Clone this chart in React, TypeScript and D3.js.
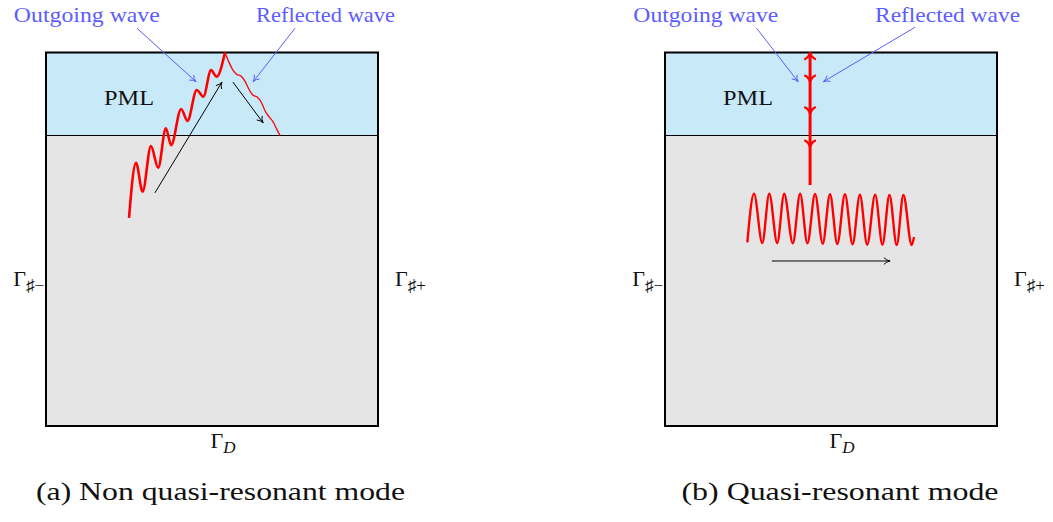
import React from "react";
import * as d3 from "d3";

// ---------- data (diagram units: box is 10 wide, 11.25 tall; PML 2.5 thick) ----------
const boxWidth = 10;
const boxHeight = 11.25;
const pmlThickness = 2.5;

const captions = ["(a) Non quasi-resonant mode", "(b) Quasi-resonant mode"];
const outgoingLabel = "Outgoing wave";
const reflectedLabel = "Reflected wave";
const pmlLabel = "PML";

// Panel (a): extrema of the outgoing (thick) wave
const outgoingWaveA: [number, number][] = [
  [2.5, 6.27], [2.71, 7.93], [2.91, 7.06], [3.16, 8.43], [3.38, 7.78], [3.61, 8.97],
  [3.77, 8.46], [4.07, 9.55], [4.26, 9.19], [4.54, 10.12], [4.74, 9.92], [4.97, 10.72],
  [5.14, 10.52], [5.39, 11.25],
];
// Panel (a): reflected (thin) wave
const reflectedWaveA: [number, number][] = [
  [5.39, 11.25], [5.51, 10.96], [5.63, 10.72], [5.75, 10.59], [5.87, 10.54], [5.99, 10.39],
  [6.11, 10.15], [6.23, 9.97], [6.36, 9.91], [6.48, 9.76], [6.6, 9.49], [6.72, 9.31],
  [6.84, 9.16], [6.96, 8.92], [7.05, 8.75],
];
// Panel (a): direction arrows [x1,y1,x2,y2]
const arrowsA: [number, number, number, number][] = [
  [3.28, 7.02, 5.3, 10.36],
  [5.63, 10.36, 6.54, 9.13],
];
// Panel (a): annotation pointers [x1,y1,x2,y2]
const pointersA: [number, number, number, number][] = [
  [2.74, 11.98, 4.52, 10.37],
  [7.5, 11.98, 6.24, 10.37],
];
const labelXA = [1.23, 8.42];

// Panel (b): standing wave extrema
const standingWaveB: [number, number][] = [
  [2.48, 5.53], [2.68, 7.0], [2.93, 5.51], [3.14, 7.0], [3.38, 5.51], [3.59, 7.0],
  [3.85, 5.5], [4.07, 7.0], [4.29, 5.5], [4.52, 6.99], [4.75, 5.49], [4.97, 6.98],
  [5.19, 5.48], [5.42, 6.98], [5.65, 5.47], [5.87, 6.97], [6.09, 5.46], [6.33, 6.97],
  [6.55, 5.46], [6.76, 6.96], [6.98, 5.45], [7.18, 6.96], [7.43, 5.45], [7.5, 5.69],
];
const verticalRayB = { x: 4.37, top: 11.25, bottom: 7.26 };
const chevronYB = [10.36, 9.4, 8.4];
const arrowB: [number, number, number, number] = [3.22, 4.97, 6.78, 4.97];
const pointersB: [number, number, number, number][] = [
  [2.76, 11.98, 4.01, 10.37],
  [7.53, 12.01, 4.77, 10.37],
];
const labelXB = [1.23, 8.51];

// ---------- layout ----------
const W = 1053;
const H = 522;
const panelLeft = [46, 665];
const unitPx = 33.2;
const boxBottom = 426;

const RED = "#ff0000";
const BLUE = "#5c5cff";
const PML_FILL = "#c8e9f8";
const DOMAIN_FILL = "#e5e5e5";
const FONT = "Liberation Serif";

function arrowHead(x1: number, y1: number, x2: number, y2: number, size = 7, spread = 0.5) {
  const a = Math.atan2(y2 - y1, x2 - x1);
  const pts = [-1, 1].map((s) => {
    const ang = a + Math.PI + s * spread;
    const bx = x2 + size * Math.cos(ang);
    const by = y2 + size * Math.sin(ang);
    const cang = a + Math.PI + s * spread * 0.35;
    const cx = x2 + size * 0.55 * Math.cos(cang);
    const cy = y2 + size * 0.55 * Math.sin(cang);
    return { bx, by, cx, cy };
  });
  return `M${pts[0].bx},${pts[0].by} Q${pts[0].cx},${pts[0].cy} ${x2},${y2} Q${pts[1].cx},${pts[1].cy} ${pts[1].bx},${pts[1].by}`;
}

function Panel({ index }: { index: number }) {
  const left = panelLeft[index];
  const x = d3.scaleLinear().domain([0, boxWidth]).range([left, left + boxWidth * unitPx]);
  const y = d3.scaleLinear().domain([0, boxHeight]).range([boxBottom, boxBottom - boxHeight * unitPx]);
  const line = d3
    .line<[number, number]>()
    .x((d) => x(d[0]))
    .y((d) => y(d[1]))
    .curve(d3.curveMonotoneX);

  const pointers = index === 0 ? pointersA : pointersB;
  const labelX = index === 0 ? labelXA : labelXB;
  const labelWidths = index === 0 ? [146, 139] : [145, 145];

  return (
    <g>
      {/* domain */}
      <rect x={x(0)} y={y(boxHeight)} width={x(boxWidth) - x(0)} height={y(0) - y(boxHeight)} fill={DOMAIN_FILL} />
      <rect
        x={x(0)}
        y={y(boxHeight)}
        width={x(boxWidth) - x(0)}
        height={y(boxHeight - pmlThickness) - y(boxHeight)}
        fill={PML_FILL}
      />
      <line x1={x(0)} x2={x(boxWidth)} y1={y(boxHeight - pmlThickness)} y2={y(boxHeight - pmlThickness)} stroke="#000" strokeWidth={1} />
      <rect
        x={x(0)}
        y={y(boxHeight)}
        width={x(boxWidth) - x(0)}
        height={y(0) - y(boxHeight)}
        fill="none"
        stroke="#000"
        strokeWidth={2}
      />
      <text x={x(2.5)} y={y(9.68)} fontFamily={FONT} fontSize={21} textAnchor="middle" textLength={50} lengthAdjust="spacingAndGlyphs" fill="#111">
        {pmlLabel}
      </text>

      {/* waves */}
      {index === 0 ? (
        <g>
          <path d={line(reflectedWaveA) || ""} fill="none" stroke={RED} strokeWidth={1.3} />
          <path d={line(outgoingWaveA) || ""} fill="none" stroke={RED} strokeWidth={2.6} strokeLinejoin="round" />
          {arrowsA.map((a, i) => (
            <g key={i}>
              <line x1={x(a[0])} y1={y(a[1])} x2={x(a[2])} y2={y(a[3])} stroke="#000" strokeWidth={1} />
              <path d={arrowHead(x(a[0]), y(a[1]), x(a[2]), y(a[3]))} fill="none" stroke="#000" strokeWidth={1} />
            </g>
          ))}
        </g>
      ) : (
        <g>
          <line
            x1={x(verticalRayB.x)}
            x2={x(verticalRayB.x)}
            y1={y(verticalRayB.top)}
            y2={y(verticalRayB.bottom)}
            stroke={RED}
            strokeWidth={3}
          />
          <path
            d={arrowHead(x(verticalRayB.x), y(verticalRayB.top) + 10, x(verticalRayB.x), y(verticalRayB.top), 9, 0.7)}
            fill="none"
            stroke={RED}
            strokeWidth={2.2}
          />
          {chevronYB.map((cy, i) => (
            <path
              key={i}
              d={arrowHead(x(verticalRayB.x), y(cy) - 10, x(verticalRayB.x), y(cy), 9, 0.7)}
              fill="none"
              stroke={RED}
              strokeWidth={2.2}
            />
          ))}
          <path d={line(standingWaveB) || ""} fill="none" stroke={RED} strokeWidth={2.4} strokeLinejoin="round" />
          <line x1={x(arrowB[0])} y1={y(arrowB[1])} x2={x(arrowB[2])} y2={y(arrowB[3])} stroke="#000" strokeWidth={1} />
          <path d={arrowHead(x(arrowB[0]), y(arrowB[1]), x(arrowB[2]), y(arrowB[3]))} fill="none" stroke="#000" strokeWidth={1} />
        </g>
      )}

      {/* annotations */}
      {pointers.map((p, i) => (
        <g key={i}>
          <line x1={x(p[0])} y1={y(p[1])} x2={x(p[2])} y2={y(p[3])} stroke={BLUE} strokeWidth={1} />
          <path d={arrowHead(x(p[0]), y(p[1]), x(p[2]), y(p[3]), 7)} fill="none" stroke={BLUE} strokeWidth={1} />
        </g>
      ))}
      {[outgoingLabel, reflectedLabel].map((t, i) => (
        <text
          key={t}
          x={x(labelX[i])}
          y={y(12.18)}
          fontFamily={FONT}
          fontSize={22}
          textAnchor="middle"
          fill={BLUE}
          textLength={labelWidths[i]}
          lengthAdjust="spacingAndGlyphs"
        >
          {t}
        </text>
      ))}

      {/* boundary labels */}
      <text x={x(0) - 2} y={y(4.22)} fontFamily={FONT} fontSize={22} textAnchor="end" fill="#111">
        Γ
        <tspan fontSize={17} dy={5}>♯−</tspan>
      </text>
      <text x={x(boxWidth) + 17} y={y(4.22)} fontFamily={FONT} fontSize={22} textAnchor="start" fill="#111">
        Γ
        <tspan fontSize={17} dy={5}>♯+</tspan>
      </text>
      <text x={x(5.33)} y={y(-0.66)} fontFamily={FONT} fontSize={22} textAnchor="middle" fill="#111">
        Γ
        <tspan fontSize={17} fontStyle="italic" dy={5}>D</tspan>
      </text>

      {/* caption */}
      <text
        x={index === 0 ? 220.5 : 840}
        y={500}
        fontFamily={FONT}
        fontSize={26}
        textAnchor="middle"
        fill="#111"
        textLength={index === 0 ? 369 : 317}
        lengthAdjust="spacingAndGlyphs"
      >
        {captions[index]}
      </text>
    </g>
  );
}

export default function App() {
  return (
    <svg
      width={W}
      height={H}
      viewBox={`0 0 ${W} ${H}`}
      style={{ position: "absolute", left: 0, top: 0, background: "#fff" }}
    >
      <rect width={W} height={H} fill="#fff" />
      <Panel index={0} />
      <Panel index={1} />
    </svg>
  );
}
